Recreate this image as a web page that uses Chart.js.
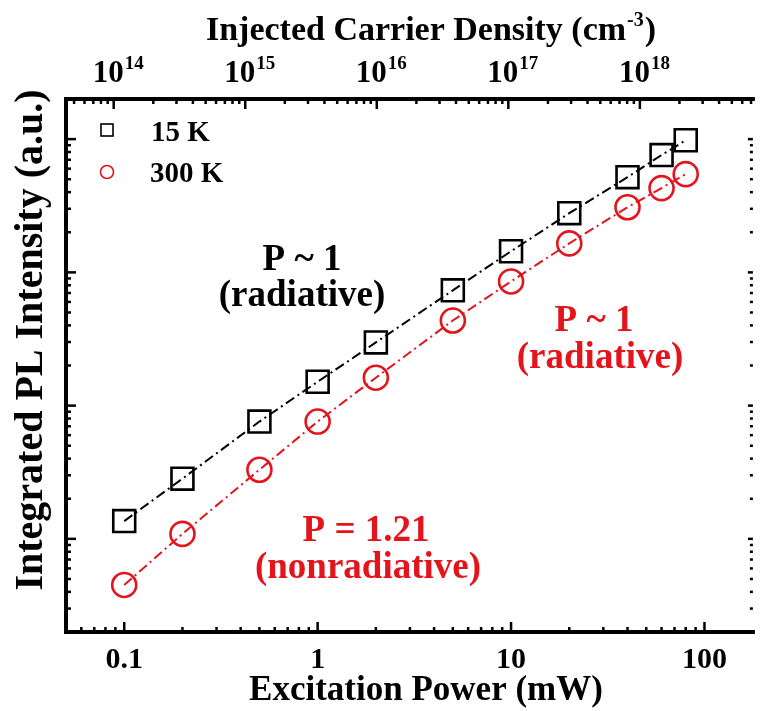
<!DOCTYPE html>
<html>
<head>
<meta charset="utf-8">
<script src="https://cdn.jsdelivr.net/npm/chart.js@4.4.1/dist/chart.umd.min.js"></script>
<style>
  html, body { margin: 0; padding: 0; background: #fff; overflow: hidden; }
  canvas { display: block; }
</style>
</head>
<body>
<canvas id="plChart" width="771" height="711"></canvas>
<script>
// excitation power (mW) and integrated PL intensity (a.u.)
const powerMw = [0.1, 0.2, 0.5, 1, 2, 5, 10, 20, 40, 60, 80];
const pl15K = [13600, 28300, 75900, 151000, 298000, 733000, 1440000, 2780000, 5180000, 7590000, 9800000];
const pl300K = [4510, 10900, 33000, 75900, 162000, 435000, 855000, 1650000, 3080000, 4290000, 5460000];

const seriesNames = ["15 K", "300 K"];
const bottomTicks = [0.1, 1, 10, 100];
const bottomTickLabels = ["0.1", "1", "10", "100"];
const topTickExps = [14, 15, 16, 17, 18];

const RED = "#e3141c";
const SERIF = "'Liberation Serif', 'Times New Roman', serif";

function toPoints(ys) {
    return powerMw.map((p, i) => ({ x: p, y: ys[i] }));
}

function text(ctx, str, x, y, size, color, align) {
    ctx.font = "bold " + size + "px " + SERIF;
    ctx.fillStyle = color;
    ctx.textAlign = align || "center";
    ctx.textBaseline = "alphabetic";
    ctx.fillText(str, x, y);
}

// base text with a raised exponent, centred on x
function textSup(ctx, base, sup, x, y, size, supSize, color) {
    ctx.font = "bold " + size + "px " + SERIF;
    const wb = ctx.measureText(base).width;
    ctx.font = "bold " + supSize + "px " + SERIF;
    const ws = ctx.measureText(sup).width;
    const left = x - (wb + ws) / 2;
    text(ctx, base, left, y, size, color, "left");
    text(ctx, sup, left + wb + 1, y - size * 0.42, supSize, color, "left");
}

// log ticks pointing into the plot
function logTicks(ctx, scale, horizontal, edge, dir, majorLen, minorLen) {
    const lo = Math.floor(Math.log10(scale.min));
    const hi = Math.ceil(Math.log10(scale.max));
    for (let e = lo; e <= hi; e++) {
        for (let m = 1; m <= 9; m++) {
            const v = m * Math.pow(10, e);
            if (v < scale.min || v > scale.max) continue;
            const p = scale.getPixelForValue(v);
            const len = m === 1 ? majorLen : minorLen;
            ctx.beginPath();
            if (horizontal) {
                ctx.moveTo(p, edge);
                ctx.lineTo(p, edge + dir * len);
            } else {
                ctx.moveTo(edge, p);
                ctx.lineTo(edge + dir * len, p);
            }
            ctx.stroke();
        }
    }
}

const framePlugin = {
    id: "framePlugin",
    afterDraw(chart) {
        const ctx = chart.ctx;
        const a = chart.chartArea;
        const xs = chart.scales.x, ys = chart.scales.y, x2 = chart.scales.x2;
        ctx.save();

        // frame: the right-hand edge sits just past the canvas
        ctx.strokeStyle = "#000";
        ctx.lineWidth = 4;
        ctx.beginPath();
        ctx.moveTo(a.right + 2, a.top);
        ctx.lineTo(a.left, a.top);
        ctx.lineTo(a.left, a.bottom);
        ctx.lineTo(a.right + 2, a.bottom);
        ctx.stroke();

        ctx.lineWidth = 2.5;
        logTicks(ctx, xs, true, a.bottom, -1, 10, 5);
        logTicks(ctx, x2, true, a.top, 1, 10, 5);
        logTicks(ctx, ys, false, a.left, 1, 10, 5);
        logTicks(ctx, ys, false, a.right, -1, 5, 3);

        // bottom axis
        bottomTicks.forEach((v, i) => {
            text(ctx, bottomTickLabels[i], xs.getPixelForValue(v), 668, 30, "#000");
        });
        text(ctx, "Excitation Power (mW)", 426, 700, 35, "#000");

        // top axis
        topTickExps.forEach(e => {
            textSup(ctx, "10", String(e), x2.getPixelForValue(Math.pow(10, e)) + 4, 82, 31, 19, "#000");
        });
        ctx.font = "bold 34px " + SERIF;
        const tMain = "Injected Carrier Density (cm";
        const wMain = ctx.measureText(tMain).width;
        ctx.font = "bold 20px " + SERIF;
        const wSup = ctx.measureText("-3").width;
        ctx.font = "bold 34px " + SERIF;
        const wEnd = ctx.measureText(")").width;
        const tl = 430 - (wMain + wSup + wEnd) / 2;
        text(ctx, tMain, tl, 40, 34, "#000", "left");
        text(ctx, "-3", tl + wMain + 1, 26, 20, "#000", "left");
        text(ctx, ")", tl + wMain + wSup + 2, 40, 34, "#000", "left");

        // left axis title
        ctx.save();
        ctx.translate(42, 340);
        ctx.rotate(-Math.PI / 2);
        text(ctx, "Integrated PL Intensity (a.u.)", 0, 0, 40, "#000");
        ctx.restore();

        // legend
        ctx.lineWidth = 1.6;
        ctx.strokeStyle = "#000";
        ctx.strokeRect(101, 124, 12, 12);
        text(ctx, seriesNames[0], 151, 141, 29, "#000", "left");
        ctx.strokeStyle = RED;
        ctx.beginPath();
        ctx.arc(107, 172, 6.5, 0, Math.PI * 2);
        ctx.stroke();
        text(ctx, seriesNames[1], 150, 182, 29, "#000", "left");

        // slope notes
        text(ctx, "P ~ 1", 302, 270, 37, "#000");
        text(ctx, "(radiative)", 302, 306, 37, "#000");
        text(ctx, "P ~ 1", 594, 331, 37, RED);
        text(ctx, "(radiative)", 600, 368, 37, RED);
        text(ctx, "P = 1.21", 366, 541, 37, RED);
        text(ctx, "(nonradiative)", 368, 578, 37, RED);

        ctx.restore();
    }
};

new Chart(document.getElementById("plChart"), {
    type: "line",
    data: {
        datasets: [
            {
                label: seriesNames[0],
                data: toPoints(pl15K),
                borderColor: "#000",
                borderWidth: 2,
                borderDash: [10, 4, 2, 4],
                pointStyle: "rect",
                pointRadius: 15.5,
                pointBorderWidth: 2.6,
                pointBorderColor: "#000",
                pointBackgroundColor: "rgba(0,0,0,0)",
                fill: false
            },
            {
                label: seriesNames[1],
                data: toPoints(pl300K),
                borderColor: RED,
                borderWidth: 2,
                borderDash: [10, 4, 2, 4],
                pointStyle: "circle",
                pointRadius: 12,
                pointBorderWidth: 2.6,
                pointBorderColor: RED,
                pointBackgroundColor: "rgba(0,0,0,0)",
                fill: false
            }
        ]
    },
    options: {
        responsive: false,
        animation: false,
        events: [],
        layout: { padding: { left: 66, right: 0, top: 99, bottom: 79 } },
        plugins: { legend: { display: false }, tooltip: { enabled: false } },
        scales: {
            x: { type: "logarithmic", position: "bottom", min: 0.05, max: 178, display: false },
            x2: { type: "logarithmic", position: "top", min: 4.34e13, max: 7.23e18, display: false },
            y: { type: "logarithmic", min: 2000, max: 20000000, display: false }
        }
    },
    plugins: [framePlugin]
});
</script>
</body>
</html>
